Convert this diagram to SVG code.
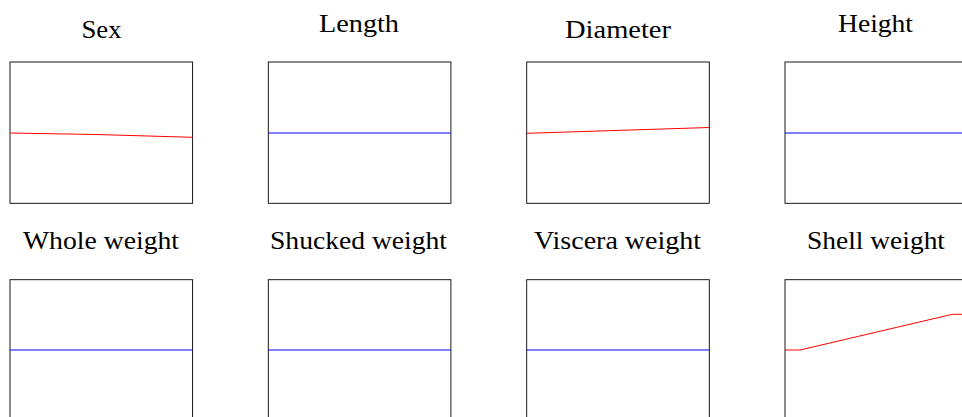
<svg xmlns="http://www.w3.org/2000/svg" width="962" height="417" viewBox="0 0 962 417">
<style>
.bg{fill:#fff}
.frame{fill:none;stroke:#000;stroke-width:0.9}
.title{font-family:"Liberation Serif","DejaVu Serif",serif;font-size:25px;fill:#000;text-anchor:middle}
.flat{fill:none;stroke:#0000ff;stroke-width:1}
.curve{fill:none;stroke:#ff0000;stroke-width:1}
</style>
<rect class="bg" x="0" y="0" width="962" height="417"/>
<g id="panel-sex">
<text class="title" x="101.5" y="37.7" textLength="40" lengthAdjust="spacingAndGlyphs">Sex</text>
<rect class="frame" x="10" y="62" width="182.6" height="141.3"/>
<polyline class="curve" points="10,133 96,134.5 192.6,137.3"/>
</g>
<g id="panel-length">
<text class="title" x="359" y="31.7" textLength="80" lengthAdjust="spacingAndGlyphs">Length</text>
<rect class="frame" x="268.3" y="62" width="182.6" height="141.3"/>
<line class="flat" x1="268.3" y1="133" x2="450.9" y2="133"/>
</g>
<g id="panel-diameter">
<text class="title" x="618" y="37.7" textLength="106" lengthAdjust="spacingAndGlyphs">Diameter</text>
<rect class="frame" x="526.7" y="62" width="182.6" height="141.3"/>
<line class="curve" x1="526.7" y1="133.3" x2="709.3" y2="127.5"/>
</g>
<g id="panel-height">
<text class="title" x="875.5" y="31.7" textLength="75" lengthAdjust="spacingAndGlyphs">Height</text>
<rect class="frame" x="785" y="62" width="182.6" height="141.3"/>
<line class="flat" x1="785" y1="133" x2="967.6" y2="133"/>
</g>
<g id="panel-whole-weight">
<text class="title" x="101" y="249.3" textLength="156" lengthAdjust="spacingAndGlyphs">Whole weight</text>
<rect class="frame" x="10" y="279.7" width="182.6" height="141.3"/>
<line class="flat" x1="10" y1="350" x2="192.6" y2="350"/>
</g>
<g id="panel-shucked-weight">
<text class="title" x="358.5" y="249.3" textLength="177" lengthAdjust="spacingAndGlyphs">Shucked weight</text>
<rect class="frame" x="268.3" y="279.7" width="182.6" height="141.3"/>
<line class="flat" x1="268.3" y1="350" x2="450.9" y2="350"/>
</g>
<g id="panel-viscera-weight">
<text class="title" x="617.5" y="249.3" textLength="167" lengthAdjust="spacingAndGlyphs">Viscera weight</text>
<rect class="frame" x="526.7" y="279.7" width="182.6" height="141.3"/>
<line class="flat" x1="526.7" y1="350" x2="709.3" y2="350"/>
</g>
<g id="panel-shell-weight">
<text class="title" x="876" y="249.3" textLength="138" lengthAdjust="spacingAndGlyphs">Shell weight</text>
<rect class="frame" x="785" y="279.7" width="182.6" height="141.3"/>
<polyline class="curve" points="785,350 800,350 952.3,314.3 967.6,314.3"/>
</g>
<g id="connectors"></g>
</svg>
